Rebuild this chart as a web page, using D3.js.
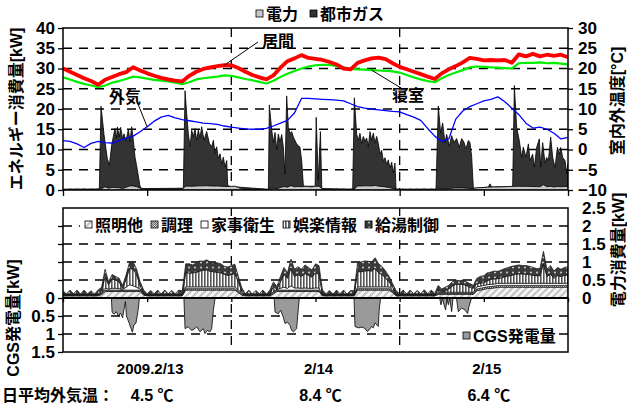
<!DOCTYPE html>
<html lang="ja">
  <head>
    <meta charset="UTF-8" />
    <title>エネルギー消費量と室内外温度 (2009.2/13-2/15)</title>
    <script src="https://d3js.org/d3.v7.min.js"></script>
    <style>
      body {
        margin: 0;
        background: #fff;
      }
      text {
        font-family: "Liberation Sans", "Noto Sans CJK JP", sans-serif;
        font-weight: bold;
        fill: #000;
      }
    </style>
  </head>
  <body>
    <svg width="627" height="408" id="chart"></svg>

    <script>
      // ---- data (hours from 2009-02-13 00:00) ----
      const hours = d3.range(0, 73);

      // temperatures, hourly [°C]
      const tempLiving = [
        20.0, 19.2, 18.4, 17.6, 16.9, 16.0, 17.2, 17.9, 18.6, 19.1, 20.3, 19.5,
        18.8, 18.2, 17.7, 17.3, 17.0, 16.8, 18.2, 19.2, 19.9, 20.3, 20.6, 20.8,
        20.8, 20.1, 19.2, 18.4, 17.8, 17.3, 18.3, 20.2, 21.8, 22.5, 23.3, 22.6,
        22.4, 22.1, 21.6, 21.0, 20.0, 19.8, 21.4, 22.0, 22.5, 22.7, 22.3, 21.3,
        20.4, 19.8, 19.2, 18.6, 18.0, 17.4, 18.8, 19.8, 20.6, 21.5, 22.6, 22.4,
        22.0, 22.1, 22.0, 22.1, 21.4, 23.5, 23.0, 23.6, 23.0, 23.4, 23.1, 23.4,
        22.8
      ];
      const tempBedroom = [
        17.8, 17.3, 16.7, 16.2, 15.8, 15.4, 15.8, 16.5, 16.9, 17.4, 18.0, 17.8,
        17.5, 17.2, 17.0, 16.8, 16.5, 16.1, 16.6, 17.3, 17.6, 17.8, 18.0, 18.3,
        18.2, 17.8, 17.4, 17.1, 16.7, 16.3, 17.0, 17.9, 18.7, 19.4, 20.0, 20.5,
        20.8, 20.9, 20.9, 20.6, 20.2, 19.9, 19.8, 19.7, 19.6, 19.5, 19.4, 19.3,
        19.0, 18.4, 17.8, 17.3, 16.9, 16.6, 17.6, 18.4, 19.0, 19.6, 20.3, 20.5,
        20.4, 20.3, 20.2, 20.1, 20.0, 21.3, 21.4, 21.4, 21.5, 21.3, 21.4, 21.2,
        21.0
      ];
      const tempOutside = [
        2.2, 2.0, 1.4, 0.5, 1.5, 2.0, 1.7, 1.6, 2.2, 2.8, 3.3, 4.4,
        5.6, 7.0, 8.0, 8.4, 7.8, 7.4, 7.1, 6.8, 6.5, 6.4, 6.2, 5.8,
        5.5, 5.3, 5.1, 5.0, 5.0, 5.2, 5.8, 6.5, 7.2, 9.0, 12.6, 12.6,
        12.5, 12.4, 12.3, 12.2, 12.0, 11.3, 10.6, 10.2, 10.0, 9.8, 9.6, 9.4,
        9.3, 8.6, 8.0, 7.2, 5.2, 3.3, 2.0, 2.6, 7.5, 9.5, 10.6, 11.3,
        12.0, 12.4, 13.0, 11.8, 10.2, 8.6, 6.5, 5.3, 5.5, 5.0, 4.0, 2.6,
        3.0
      ];

      // city gas consumption [kW], irregular sample times [h]
      const gasHours = [
        0, 5.18, 5.42, 5.85, 6.32, 6.61, 6.94, 7.41, 7.65, 7.75, 8.03, 8.22,
        8.51, 8.7, 8.98, 9.32, 9.55, 9.79, 10.03, 10.27, 10.5, 10.98, 11.22,
        17.16, 17.4, 17.63, 17.87, 18.11, 18.35, 18.58, 18.82, 19.06, 19.3,
        19.53, 19.77, 20.1, 20.48, 20.87, 21.2, 21.44, 21.67, 21.91, 22.15,
        22.39, 22.62, 22.86, 23.1, 23.34, 23.48, 23.8,
        29.28, 29.42, 29.75, 29.99, 30.23, 30.47, 30.7, 30.94, 31.18, 31.42,
        31.65, 31.89, 32.13, 32.37, 32.6, 32.84, 33.32, 33.79, 34.03, 34.27,
        34.5, 35.95, 36.1, 36.4, 36.7, 36.9,
        41.3, 41.54, 41.87, 42.11, 42.34, 42.58, 42.82, 43.06, 43.29, 43.53,
        43.77, 44.01, 44.25, 44.48, 44.72, 44.96, 45.2, 45.43, 45.67, 45.91,
        46.15, 46.38, 46.62, 46.86, 47.1, 47.33, 47.48,
        53.18, 53.51, 53.84, 54.13, 54.46, 54.7, 55.08, 55.41, 55.74, 56.12,
        56.5, 56.84, 57.17, 57.46, 57.79, 58.02, 58.26, 58.5, 58.74,
        60.64, 60.88, 61.1,
        64.11, 64.35, 64.68, 65.06, 65.39, 65.63, 66.01, 66.35, 66.58, 66.96,
        67.2, 67.53, 67.91, 68.1, 68.39, 68.72, 68.96, 69.2, 69.53, 69.82,
        70.15, 70.49, 70.77, 70.96, 71.25, 71.58, 71.82, 72
      ];
      const gasKW = [
        0, 0, 20.4, 13, 7.2, 5.6, 10.5, 14.6, 12.2, 15, 12.6, 15,
        12.2, 13.4, 11.3, 14.2, 11, 14.6, 11.3, 7.2, 5.2, 0.5, 0,
        0, 23.7, 18, 13, 9.7, 13.8, 12.2, 14.2, 11.3, 13.8,
        11.8, 14.6, 11.3, 13.4, 10.5, 9.7, 11.3, 8, 9.7, 6.8,
        8, 5.6, 7.2, 4.8, 6.4, 0.3, 0,
        0, 20.8, 14.6, 11.3, 13.8, 9.7, 13.4, 11.3, 13, 9.7,
        3.1, 22.5, 14.6, 13, 13.4, 12.2, 10.5, 9.7, 6.4, 0.2,
        0, 0, 17, 1.5, 13.8, 0,
        0, 22.5, 13, 11.3, 13, 10.5, 12.2, 11, 11.8, 9.7,
        13.4, 11.3, 13, 10.5, 12.2, 10.5, 8, 8.9, 6.4, 7.2,
        5.6, 6.8, 4.8, 6.4, 3.9, 6.4, 0,
        0, 20.4, 13.8, 16.3, 11.3, 13.4, 10.5, 13, 11.3, 12.2,
        10.1, 12.2, 11.3, 9.7, 11.8, 11.3, 8, 0.2, 0,
        0, 0.8, 0,
        0, 24.9, 14.6, 11.3, 7.2, 9.7, 7.2, 10.5, 6.4, 8,
        4.8, 9.7, 11.8, 4.8, 10.5, 5.6, 7.2, 6.4, 12.2, 7.2,
        4.8, 9.7, 8, 9.7, 7.2, 6.4, 3.1, 5.6
      ];

      // electricity use by purpose [kW], every 30 min
      const halfHours = d3.range(0, 145).map((i) => i / 2);
      const lighting = [
        0.06, 0.06, 0.06, 0.06, 0.06, 0.06, 0.06, 0.06, 0.06, 0.06, 0.06,
        0.1, 0.18, 0.18, 0.18, 0.18, 0.18, 0.18, 0.18, 0.18, 0.18, 0.18, 0.18, 0.08,
        0.06, 0.06, 0.06, 0.06, 0.06, 0.06, 0.06, 0.06, 0.06, 0.06,
        0.06, 0.22, 0.22, 0.22, 0.22, 0.22, 0.22, 0.22, 0.22, 0.22, 0.22, 0.22, 0.22, 0.22, 0.22, 0.22, 0.15, 0.08,
        0.06, 0.06, 0.06, 0.06, 0.06, 0.06, 0.06, 0.06,
        0.12, 0.18, 0.18, 0.18, 0.18, 0.18, 0.18, 0.18, 0.18, 0.18, 0.18, 0.18, 0.18, 0.18,
        0.06, 0.06, 0.06, 0.06, 0.06, 0.06, 0.06, 0.06, 0.06,
        0.06, 0.22, 0.22, 0.22, 0.22, 0.22, 0.22, 0.22, 0.22, 0.22, 0.22, 0.15, 0.06,
        0.06, 0.06, 0.06, 0.06, 0.06, 0.06, 0.06, 0.06, 0.06, 0.06, 0.06,
        0.1, 0.1, 0.1, 0.1, 0.1, 0.1, 0.1, 0.1, 0.1, 0.1, 0.1,
        0.2, 0.22, 0.24, 0.26, 0.27, 0.28, 0.3, 0.3, 0.3, 0.3, 0.3, 0.3, 0.3, 0.3,
        0.3, 0.3, 0.3, 0.3, 0.3, 0.3, 0.3, 0.3, 0.3, 0.3, 0.3, 0.3, 0.3
      ];
      const cooking = [
        0.02, 0.02, 0.02, 0.02, 0.02, 0.02, 0.02, 0.02, 0.02, 0.02, 0.02,
        0.04, 0.04, 0.04, 0.04, 0.04, 0.04, 0.04, 0.04, 0.04, 0.04, 0.04, 0.04, 0.02,
        0.02, 0.02, 0.02, 0.02, 0.02, 0.02, 0.02, 0.02, 0.02, 0.02,
        0.02, 0.04, 0.04, 0.04, 0.04, 0.04, 0.04, 0.04, 0.04, 0.04, 0.04, 0.04, 0.04, 0.04, 0.04, 0.04, 0.04, 0.03,
        0.02, 0.02, 0.02, 0.02, 0.02, 0.02, 0.02, 0.02,
        0.04, 0.04, 0.04, 0.04, 0.04, 0.04, 0.04, 0.04, 0.04, 0.04, 0.04, 0.04, 0.04, 0.04,
        0.02, 0.02, 0.02, 0.02, 0.02, 0.02, 0.02, 0.02, 0.02,
        0.02, 0.04, 0.04, 0.04, 0.04, 0.04, 0.04, 0.04, 0.04, 0.04, 0.04, 0.04, 0.02,
        0.02, 0.02, 0.02, 0.02, 0.02, 0.02, 0.02, 0.02, 0.02, 0.02, 0.02,
        0.03, 0.03, 0.03, 0.03, 0.03, 0.03, 0.03, 0.03, 0.03, 0.03, 0.03,
        0.05, 0.05, 0.05, 0.05, 0.05, 0.05, 0.05, 0.05, 0.05, 0.05, 0.05, 0.05, 0.05, 0.05,
        0.05, 0.05, 0.05, 0.05, 0.05, 0.05, 0.05, 0.05, 0.05, 0.05, 0.05, 0.05, 0.05
      ];
      const housework = [
        0.01, 0.01, 0.01, 0.01, 0.01, 0.01, 0.01, 0.01, 0.01, 0.01, 0.01,
        0.02, 0.05, 0.03, 0.05, 0.05, 0.04, 0.02, 0.08, 0.15, 0.12, 0.08, 0.03, 0.01,
        0.01, 0.01, 0.01, 0.01, 0.01, 0.01, 0.01, 0.01, 0.01, 0.01,
        0.01, 0.05, 0.05, 0.05, 0.05, 0.05, 0.05, 0.05, 0.05, 0.05, 0.05, 0.05, 0.05, 0.05, 0.05, 0.05, 0.04, 0.02,
        0.01, 0.01, 0.01, 0.01, 0.01, 0.01, 0.01, 0.01,
        0.03, 0.02, 0.05, 0.08, 0.05, 0.12, 0.06, 0.06, 0.05, 0.06, 0.05, 0.05, 0.06, 0.06,
        0.01, 0.01, 0.01, 0.01, 0.01, 0.01, 0.01, 0.01, 0.01,
        0.01, 0.05, 0.05, 0.05, 0.05, 0.05, 0.05, 0.05, 0.05, 0.05, 0.05, 0.03, 0.01,
        0.01, 0.01, 0.01, 0.01, 0.01, 0.01, 0.01, 0.01, 0.01, 0.01, 0.01,
        0.03, 0.03, 0.03, 0.03, 0.03, 0.03, 0.03, 0.03, 0.03, 0.03, 0.03,
        0.06, 0.06, 0.06, 0.06, 0.06, 0.06, 0.06, 0.06, 0.06, 0.06, 0.06, 0.06, 0.06, 0.06,
        0.06, 0.06, 0.06, 0.06, 0.06, 0.06, 0.06, 0.06, 0.06, 0.06, 0.06, 0.06, 0.06
      ];
      const entertainment = [
        0.01, 0.01, 0.01, 0.01, 0.01, 0.01, 0.01, 0.01, 0.01, 0.01, 0.01,
        0.04, 0.33, 0.12, 0.26, 0.23, 0.19, 0.03, 0.23, 0.45, 0.46, 0.35, 0.1, 0.01,
        0.01, 0.01, 0.01, 0.01, 0.01, 0.01, 0.01, 0.01, 0.01, 0.01,
        0.01, 0.4, 0.38, 0.39, 0.4, 0.44, 0.46, 0.47, 0.43, 0.42, 0.4, 0.39, 0.35, 0.32, 0.34, 0.37, 0.22, 0.05,
        0.01, 0.01, 0.01, 0.01, 0.01, 0.01, 0.01, 0.01,
        0.14, 0.0, 0.18, 0.35, 0.28, 0.49, 0.32, 0.37, 0.33, 0.4, 0.36, 0.31, 0.42, 0.38,
        0.01, 0.01, 0.01, 0.01, 0.01, 0.01, 0.01, 0.01, 0.01,
        0.01, 0.42, 0.42, 0.44, 0.45, 0.44, 0.51, 0.39, 0.34, 0.24, 0.14, 0.08, 0.01,
        0.01, 0.01, 0.01, 0.01, 0.01, 0.01, 0.01, 0.01, 0.01, 0.01, 0.01,
        0.07, 0.01, 0.04, 0.09, 0.17, 0.22, 0.22, 0.22, 0.19, 0.14, 0.11,
        0.09, 0.09, 0.07, 0.11, 0.14, 0.14, 0.13, 0.15, 0.18, 0.2, 0.22, 0.25, 0.26, 0.26,
        0.25, 0.24, 0.22, 0.21, 0.21, 0.54, 0.19, 0.25, 0.14, 0.21, 0.19, 0.22, 0.23
      ];
      const hotWater = [
        0.1, 0.01, 0.12, 0.02, 0.12, 0.01, 0.12, 0.02, 0.1, 0.01, 0.12,
        0.1, 0.2, 0.08, 0.12, 0.1, 0.1, 0.08, 0.12, 0.18, 0.2, 0.15, 0.1, 0.1,
        0.02, 0.11, 0.02, 0.12, 0.01, 0.12, 0.02, 0.11, 0.02, 0.12,
        0.1, 0.24, 0.26, 0.22, 0.27, 0.28, 0.25, 0.28, 0.26, 0.24, 0.27, 0.25, 0.22, 0.23, 0.25, 0.26, 0.15, 0.1,
        0.02, 0.12, 0.01, 0.11, 0.02, 0.12, 0.01, 0.12,
        0.12, 0.08, 0.15, 0.2, 0.15, 0.25, 0.2, 0.22, 0.2, 0.24, 0.22, 0.2, 0.25, 0.24,
        0.12, 0.02, 0.11, 0.01, 0.12, 0.02, 0.12, 0.01, 0.11,
        0.1, 0.25, 0.27, 0.28, 0.26, 0.25, 0.3, 0.25, 0.22, 0.2, 0.15, 0.1, 0.1,
        0.02, 0.12, 0.01, 0.12, 0.02, 0.11, 0.02, 0.13, 0.02, 0.12, 0.03,
        0.12, 0.08, 0.1, 0.1, 0.12, 0.12, 0.1, 0.12, 0.1, 0.1, 0.08,
        0.15, 0.18, 0.2, 0.22, 0.2, 0.22, 0.2, 0.22, 0.23, 0.24, 0.25, 0.24, 0.25, 0.23,
        0.24, 0.23, 0.22, 0.2, 0.2, 0.35, 0.2, 0.24, 0.2, 0.23, 0.2, 0.22, 0.23
      ];

      // CGS generation [kW], irregular sample times [h]
      const cgsHours = [
        0, 6.9, 7.0, 7.3, 7.6, 7.9, 8.2, 8.5, 8.75, 8.9, 9.05, 9.4, 9.7, 9.9,
        10.1, 10.4, 10.7, 10.9,
        17.24, 17.4, 17.86, 18.34, 18.82, 19.06, 19.53, 20.0, 20.25, 20.58,
        20.96, 21.2, 21.44, 21.68,
        30.1, 30.23, 30.7, 31.03, 31.41, 31.65, 31.98, 32.36, 32.6, 32.84,
        33.07, 33.31, 33.55, 33.69,
        41.49, 41.63, 42.1, 42.58, 42.91, 43.2, 43.39, 43.67, 44.0, 44.24,
        44.48, 44.95, 45.1, 45.29,
        53.7, 53.89, 54.1, 54.55, 54.75, 54.94, 55.15, 55.41, 55.6, 56.1,
        56.36, 56.84, 57.31, 57.69, 57.88, 58.26, 72
      ];
      const cgsKW = [
        0, 0, 0.4, 0.45, 0.38, 0.5, 0.42, 0.55, 0.25, 0.1, 0.5, 0.68, 0.85, 0.95,
        0.75, 0.7, 0.35, 0,
        0, 0.85, 0.8, 0.9, 0.85, 0.8, 0.94, 0.85, 0.99, 0.9,
        0.94, 0.85, 0.34, 0,
        0, 0.39, 0.44, 0.34, 0.53, 0.71, 0.67, 0.76, 0.9, 0.94,
        0.9, 0.85, 0.3, 0,
        0, 0.79, 0.83, 0.81, 0.83, 0.88, 0.93, 0.88, 0.79, 0.83,
        0.69, 0.79, 0.28, 0,
        0, 0.19, 0.02, 0.33, 0.02, 0.19, 0.02, 0.38, 0, 0,
        0.38, 0.28, 0.33, 0.43, 0.24, 0, 0
      ];

      // axis ticks and labels
      const kwTicks = [0, 5, 10, 15, 20, 25, 30, 35, 40];
      const tempTicks = [-10, -5, 0, 5, 10, 15, 20, 25, 30];
      const useTicks = [0, 0.5, 1, 1.5, 2, 2.5];
      const genTicks = [0, 0.5, 1, 1.5];
      const hourTicks = [0, 12, 24, 36, 48, 60, 72];
      const dayBreaks = [24, 48];
      const dateLabels = ["2009.2/13", "2/14", "2/15"];
      const dailyMeanTemp = ["4.5 ℃", "8.4 ℃", "6.4 ℃"];

      // ---- layout ----
      const svg = d3.select("#chart");
      const left = 63,
        right = 568;
      const top1 = 28,
        bot1 = 190;
      const top2 = 208,
        zero2 = 298,
        bot2 = 352;
      const dash = "9,7";

      const x = d3.scaleLinear().domain([0, 72]).range([left, right]);
      const yKW = d3.scaleLinear().domain([0, 40]).range([bot1, top1]);
      const yT = d3.scaleLinear().domain([-10, 30]).range([bot1, top1]);
      const yUse = d3.scaleLinear().domain([0, 2.5]).range([zero2, top2]);
      const yGen = d3.scaleLinear().domain([0, 1.5]).range([zero2, bot2]);

      function styleAxis(g, size = 17) {
        g.select(".domain").remove();
        g.selectAll("line").attr("stroke", "#000").attr("stroke-width", 1.3);
        g.selectAll("text")
          .attr("font-size", size)
          .attr("font-weight", "bold")
          .attr("font-family", '"Liberation Sans", "Noto Sans CJK JP", sans-serif');
      }

      // patterns for the purpose layers
      const defs = svg.append("defs");
      const pLight = defs
        .append("pattern")
        .attr("id", "pat-light")
        .attr("patternUnits", "userSpaceOnUse")
        .attr("width", 5)
        .attr("height", 5)
        .attr("patternTransform", "rotate(45)");
      pLight.append("rect").attr("width", 5).attr("height", 5).attr("fill", "#f4f4f4");
      pLight.append("rect").attr("width", 2).attr("height", 5).attr("fill", "#c2c2c2");

      const pCook = defs
        .append("pattern")
        .attr("id", "pat-cook")
        .attr("patternUnits", "userSpaceOnUse")
        .attr("width", 2)
        .attr("height", 2);
      pCook.append("rect").attr("width", 2).attr("height", 2).attr("fill", "#d0d0d0");
      pCook.append("rect").attr("width", 1).attr("height", 1).attr("fill", "#666");
      pCook.append("rect").attr("x", 1).attr("y", 1).attr("width", 1).attr("height", 1).attr("fill", "#666");

      const pEnt = defs
        .append("pattern")
        .attr("id", "pat-ent")
        .attr("patternUnits", "userSpaceOnUse")
        .attr("width", 3)
        .attr("height", 3);
      pEnt.append("rect").attr("width", 3).attr("height", 3).attr("fill", "#fff");
      pEnt.append("rect").attr("width", 1.6).attr("height", 3).attr("fill", "#555");

      const pHot = defs
        .append("pattern")
        .attr("id", "pat-hot")
        .attr("patternUnits", "userSpaceOnUse")
        .attr("width", 6)
        .attr("height", 5);
      pHot.append("rect").attr("width", 6).attr("height", 5).attr("fill", "#3a3a3a");
      pHot.append("circle").attr("cx", 3).attr("cy", 2.5).attr("r", 0.9).attr("fill", "#e0e0e0");

      const layers = [
        { key: "照明他", values: lighting, fill: "url(#pat-light)" },
        { key: "調理", values: cooking, fill: "url(#pat-cook)" },
        { key: "家事衛生", values: housework, fill: "#fff" },
        { key: "娯楽情報", values: entertainment, fill: "url(#pat-ent)" },
        { key: "給湯制御", values: hotWater, fill: "url(#pat-hot)" },
      ];

      defs.append("clipPath").attr("id", "clip-top")
        .append("rect").attr("x", left).attr("y", top1).attr("width", right - left).attr("height", bot1 - top1);
      defs.append("clipPath").attr("id", "clip-bot")
        .append("rect").attr("x", left).attr("y", top2).attr("width", right - left).attr("height", bot2 - top2);

      // =========== top panel ===========
      const topGrid = svg.append("g");
      topGrid
        .selectAll("line.h")
        .data(kwTicks.filter((v) => v > 0 && v < 40))
        .join("line")
        .attr("x1", left)
        .attr("x2", right)
        .attr("y1", (d) => yKW(d))
        .attr("y2", (d) => yKW(d))
        .attr("stroke", "#000")
        .attr("stroke-width", 1.3)
        .attr("stroke-dasharray", dash);
      topGrid
        .selectAll("line.v")
        .data(dayBreaks)
        .join("line")
        .attr("x1", (d) => x(d))
        .attr("x2", (d) => x(d))
        .attr("y1", top1)
        .attr("y2", bot1)
        .attr("stroke", "#000")
        .attr("stroke-width", 1.3)
        .attr("stroke-dasharray", dash);

      const topPlot = svg.append("g").attr("clip-path", "url(#clip-top)");

      // electricity total = sum of purposes
      const elecTotal = halfHours.map((h, i) =>
        d3.sum(layers, (l) => l.values[i])
      );
      const elecAt = d3.scaleLinear().domain(halfHours).range(elecTotal);

      // gas stacked on electricity
      topPlot
        .append("path")
        .datum(gasKW)
        .attr("fill", "#333")
        .attr("stroke", "#000")
        .attr("stroke-width", 0.8)
        .attr(
          "d",
          d3
            .area()
            .x((d, i) => x(gasHours[i]))
            .y0(yKW(0))
            .y1((d, i) => yKW(d + elecAt(gasHours[i])))
        );
      topPlot
        .append("path")
        .datum(elecTotal)
        .attr("fill", "#c8c8c8")
        .attr("stroke", "#000")
        .attr("stroke-width", 0.8)
        .attr(
          "d",
          d3
            .area()
            .x((d, i) => x(halfHours[i]))
            .y0(yKW(0))
            .y1((d) => yKW(d))
        );

      const tempLine = d3
        .line()
        .x((d, i) => x(hours[i]))
        .y((d) => yT(d));
      const tempSeries = [
        { name: "外気", values: tempOutside, color: "#0000ff", width: 1.3 },
        { name: "寝室", values: tempBedroom, color: "#00ee00", width: 2.2 },
        { name: "居間", values: tempLiving, color: "#ff0000", width: 3.8 },
      ];
      tempSeries.forEach((s) => {
        topPlot
          .append("path")
          .datum(s.values)
          .attr("fill", "none")
          .attr("stroke", s.color)
          .attr("stroke-width", s.width)
          .attr("stroke-linejoin", "round")
          .attr("d", tempLine);
      });

      // frame + axes
      svg
        .append("rect")
        .attr("x", left)
        .attr("y", top1)
        .attr("width", right - left)
        .attr("height", bot1 - top1)
        .attr("fill", "none")
        .attr("stroke", "#000")
        .attr("stroke-width", 1.5);

      svg
        .append("g")
        .attr("transform", `translate(${left},0)`)
        .call(d3.axisLeft(yKW).tickValues(kwTicks).tickSize(5).tickPadding(3))
        .call(styleAxis);
      svg
        .append("g")
        .attr("transform", `translate(${right},0)`)
        .call(d3.axisRight(yT).tickValues(tempTicks).tickSize(5).tickPadding(5))
        .call(styleAxis);
      svg
        .append("g")
        .attr("transform", `translate(0,${bot1})`)
        .call(d3.axisBottom(x).tickValues(hourTicks).tickSize(6).tickFormat(""))
        .call(styleAxis);

      // callouts for temperature lines
      const callouts = [
        { text: "居間", values: tempLiving, at: 23, lx: 278, ly: 47, sx: 258, sy: 42 },
        { text: "外気", values: tempOutside, at: 12, lx: 125, ly: 103, sx: 138, sy: 104 },
        { text: "寝室", values: tempBedroom, at: 44, lx: 408, ly: 101, sx: 401, sy: 88 },
      ];
      callouts.forEach((c) => {
        svg
          .append("line")
          .attr("x1", c.sx)
          .attr("y1", c.sy)
          .attr("x2", x(hours[c.at]))
          .attr("y2", yT(c.values[c.at]))
          .attr("stroke", "#000")
          .attr("stroke-width", 1);
        svg
          .append("text")
          .attr("x", c.lx)
          .attr("y", c.ly)
          .attr("text-anchor", "middle")
          .attr("font-size", 16)
          .text(c.text);
      });

      // top legend
      const topLegend = [
        { label: "電力", fill: "#c8c8c8" },
        { label: "都市ガス", fill: "#333" },
      ];
      let lx = 256;
      topLegend.forEach((item) => {
        svg
          .append("rect")
          .attr("x", lx)
          .attr("y", 10)
          .attr("width", 7)
          .attr("height", 7)
          .attr("fill", item.fill)
          .attr("stroke", "#000")
          .attr("stroke-width", 0.8);
        const t = svg
          .append("text")
          .attr("x", lx + 10)
          .attr("y", 20)
          .attr("font-size", 16)
          .text(item.label);
        lx += 10 + t.node().getComputedTextLength() + 12;
      });

      // axis titles
      svg
        .append("text")
        .attr("transform", `translate(22,${(top1 + bot1) / 2}) rotate(-90)`)
        .attr("text-anchor", "middle")
        .attr("font-size", 16)
        .text("エネルギー消費量[kW]");
      svg
        .append("text")
        .attr("transform", `translate(623,101) rotate(-90)`)
        .attr("text-anchor", "middle")
        .attr("font-size", 16)
        .text("室内外温度[°C]");

      // =========== bottom panel ===========
      const botGrid = svg.append("g");
      const gridYs = useTicks
        .filter((v) => v > 0 && v < 2.5)
        .map((v) => yUse(v))
        .concat(genTicks.filter((v) => v > 0 && v < 1.5).map((v) => yGen(v)));
      botGrid
        .selectAll("line.h")
        .data(gridYs)
        .join("line")
        .attr("x1", left)
        .attr("x2", right)
        .attr("y1", (d) => d)
        .attr("y2", (d) => d)
        .attr("stroke", "#000")
        .attr("stroke-width", 1.3)
        .attr("stroke-dasharray", dash);
      botGrid
        .selectAll("line.v")
        .data(dayBreaks)
        .join("line")
        .attr("x1", (d) => x(d))
        .attr("x2", (d) => x(d))
        .attr("y1", top2)
        .attr("y2", bot2)
        .attr("stroke", "#000")
        .attr("stroke-width", 1.3)
        .attr("stroke-dasharray", dash);

      const botPlot = svg.append("g").attr("clip-path", "url(#clip-bot)");

      const rows = halfHours.map((h, i) => {
        const r = { h };
        layers.forEach((l) => (r[l.key] = l.values[i]));
        return r;
      });
      const stacked = d3.stack().keys(layers.map((l) => l.key))(rows);
      const useArea = d3
        .area()
        .x((d) => x(d.data.h))
        .y0((d) => yUse(d[0]))
        .y1((d) => yUse(d[1]));
      botPlot
        .selectAll("path.layer")
        .data(stacked)
        .join("path")
        .attr("class", "layer")
        .attr("fill", (d, i) => layers[i].fill)
        .attr("stroke", "#111")
        .attr("stroke-width", 0.7)
        .attr("d", useArea);

      botPlot
        .append("path")
        .datum(cgsKW)
        .attr("fill", "#9a9a9a")
        .attr("stroke", "#000")
        .attr("stroke-width", 0.8)
        .attr(
          "d",
          d3
            .area()
            .x((d, i) => x(cgsHours[i]))
            .y0(yGen(0))
            .y1((d) => yGen(d))
        );

      // zero line with ticks
      svg
        .append("line")
        .attr("x1", left)
        .attr("x2", right)
        .attr("y1", zero2)
        .attr("y2", zero2)
        .attr("stroke", "#000")
        .attr("stroke-width", 2);
      svg
        .append("g")
        .attr("transform", `translate(0,${zero2})`)
        .call(d3.axisBottom(x).tickValues(hourTicks).tickSize(4).tickFormat(""))
        .call(styleAxis);

      // legends (white backing over the gridlines)
      const botLegend = svg.append("g");
      const legBg = botLegend.append("rect").attr("fill", "#fff");
      let bx = 85;
      layers.forEach((l) => {
        botLegend
          .append("rect")
          .attr("x", bx)
          .attr("y", 221)
          .attr("width", 7)
          .attr("height", 7)
          .attr("fill", l.fill)
          .attr("stroke", "#000")
          .attr("stroke-width", 0.8);
        const t = botLegend
          .append("text")
          .attr("x", bx + 10)
          .attr("y", 231)
          .attr("font-size", 16)
          .text(l.key);
        bx += 10 + t.node().getComputedTextLength() + 8;
      });
      legBg.attr("x", 80).attr("y", 216).attr("width", bx - 84).attr("height", 19);

      const cgsLeg = svg.append("g");
      const cgsBg = cgsLeg.append("rect").attr("fill", "#fff");
      cgsLeg
        .append("rect")
        .attr("x", 463)
        .attr("y", 332)
        .attr("width", 7)
        .attr("height", 7)
        .attr("fill", "#9a9a9a")
        .attr("stroke", "#000")
        .attr("stroke-width", 0.8);
      const cgsText = cgsLeg
        .append("text")
        .attr("x", 473)
        .attr("y", 342)
        .attr("font-size", 16)
        .text("CGS発電量");
      cgsBg
        .attr("x", 458)
        .attr("y", 326)
        .attr("width", 18 + cgsText.node().getComputedTextLength())
        .attr("height", 18);

      svg
        .append("rect")
        .attr("x", left)
        .attr("y", top2)
        .attr("width", right - left)
        .attr("height", bot2 - top2)
        .attr("fill", "none")
        .attr("stroke", "#000")
        .attr("stroke-width", 1.5);

      svg
        .append("g")
        .attr("transform", `translate(${left},0)`)
        .call(
          d3
            .axisLeft(yGen)
            .tickValues(genTicks)
            .tickSize(5)
            .tickPadding(3)
            .tickFormat(d3.format("~g"))
        )
        .call(styleAxis);
      svg
        .append("g")
        .attr("transform", `translate(${left},0)`)
        .call(
          d3
            .axisLeft(yUse)
            .tickValues(useTicks.filter((v) => v > 0 && v < 2.5))
            .tickSize(5)
            .tickFormat("")
        )
        .call(styleAxis);
      svg
        .append("g")
        .attr("transform", `translate(${right},0)`)
        .call(
          d3
            .axisRight(yUse)
            .tickValues(useTicks)
            .tickSize(0)
            .tickPadding(14)
            .tickFormat(d3.format("~g"))
        )
        .call(styleAxis);

      svg
        .append("text")
        .attr("transform", `translate(19,318) rotate(-90)`)
        .attr("text-anchor", "middle")
        .attr("font-size", 16)
        .text("CGS発電量[kW]");
      svg
        .append("text")
        .attr("transform", `translate(624,250) rotate(-90)`)
        .attr("text-anchor", "middle")
        .attr("font-size", 16)
        .text("電力消費量[kW]");

      // date labels and daily mean outdoor temperature
      const noon = [12, 36, 60];
      svg
        .selectAll("text.date")
        .data(dateLabels)
        .join("text")
        .attr("class", "date")
        .attr("x", (d, i) => x(noon[i]) + 3)
        .attr("y", 374)
        .attr("text-anchor", "middle")
        .attr("font-size", 15)
        .text((d) => d);

      svg
        .append("text")
        .attr("x", 2)
        .attr("y", 401)
        .attr("font-size", 16)
        .text("日平均外気温：");
      svg
        .selectAll("text.mean")
        .data(dailyMeanTemp)
        .join("text")
        .attr("class", "mean")
        .attr("x", (d, i) => x(noon[i]) + 5)
        .attr("y", 401)
        .attr("text-anchor", "middle")
        .attr("font-size", 16)
        .text((d) => d);
    </script>
  </body>
</html>
